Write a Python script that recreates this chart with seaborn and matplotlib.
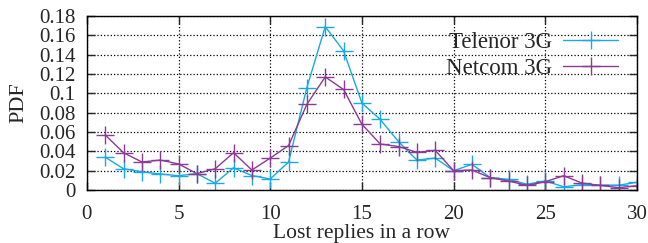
import numpy as np
import pandas as pd
import matplotlib
matplotlib.use('Agg')
import matplotlib.pyplot as plt
import seaborn as sns

lost = list(range(1, 31))
telenor = [0.034, 0.022, 0.019, 0.0166, 0.0148, 0.017, 0.007, 0.023, 0.015, 0.0114,
           0.029, 0.106, 0.169, 0.144, 0.090, 0.073, 0.050, 0.031, 0.033, 0.020,
           0.0266, 0.0128, 0.011, 0.006, 0.0093, 0.0034, 0.0055, 0.005, 0.005, 0.008]
netcom = [0.057, 0.0386, 0.029, 0.031, 0.027, 0.017, 0.022, 0.0386, 0.0207, 0.033,
          0.046, 0.0887, 0.117, 0.104, 0.068, 0.0476, 0.045, 0.039, 0.041, 0.020,
          0.0207, 0.0128, 0.0093, 0.0048, 0.0086, 0.0148, 0.0072, 0.0048, 0.0024, 0.0045]
series_names = ['Telenor 3G', 'Netcom 3G']
colors = ['#1aa9e0', '#8b3a95']

df = pd.DataFrame({
    'x': lost * 2,
    'pdf': telenor + netcom,
    'net': [series_names[0]] * 30 + [series_names[1]] * 30,
})

sns.set_style('ticks')
plt.rcParams['font.family'] = ['Liberation Serif', 'DejaVu Serif']
plt.rcParams['font.size'] = 15

fig = plt.figure(figsize=(6.48, 2.43), dpi=100)
ax = fig.add_axes([0.134, 0.218, 0.849, 0.716])

sns.lineplot(data=df, x='x', y='pdf', hue='net', palette=colors, marker='+',
             markersize=13, linewidth=1.0, ax=ax, legend=False)
# seaborn paints marker edges white; give them the line colour
for line in ax.lines:
    line.set_markeredgecolor(line.get_color())
    line.set_markeredgewidth(1.0)

ax.set_xlim(0, 30)
ax.set_ylim(0, 0.18)
ax.set_xticks(range(0, 31, 5))
ax.set_yticks(np.arange(0, 0.181, 0.02))
ax.set_yticklabels(['0', '0.02', '0.04', '0.06', '0.08', '0.1', '0.12', '0.14', '0.16', '0.18'])
ax.tick_params(direction='in', top=True, right=True, length=6, width=1, labelsize=15)
ax.tick_params(axis='y', pad=8)
ax.tick_params(axis='x', pad=11)
ax.grid(True, linestyle=':', color='black', linewidth=0.9)
for s in ax.spines.values():
    s.set_linewidth(1.0)
    s.set_color('black')
ax.set_xlabel('Lost replies in a row', fontsize=15.5, labelpad=0)
ax.set_ylabel('PDF', fontsize=16, labelpad=8)

handles = [plt.Line2D([], [], color=c, marker='+', markersize=13, markeredgewidth=1.0,
                      linewidth=1.0) for c in colors]
ax.legend(handles, series_names, loc='upper right', frameon=False, markerfirst=False,
          fontsize=16.5, handlelength=2.4, handletextpad=0.5, borderaxespad=0.3,
          labelspacing=0.2, bbox_to_anchor=(0.995, 1.0))

fig.savefig('out.png', dpi=100)
